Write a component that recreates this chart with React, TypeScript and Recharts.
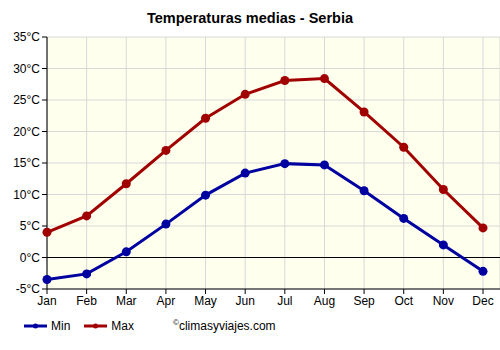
import React from "react";
import {
  LineChart,
  Line,
  XAxis,
  YAxis,
  CartesianGrid,
  ReferenceLine,
} from "recharts";

const months = ["Jan", "Feb", "Mar", "Apr", "May", "Jun", "Jul", "Aug", "Sep", "Oct", "Nov", "Dec"];
const minTemps = [-3.5, -2.6, 0.9, 5.3, 9.9, 13.4, 14.9, 14.7, 10.6, 6.2, 2.0, -2.2];
const maxTemps = [4.0, 6.6, 11.7, 17.0, 22.1, 25.9, 28.1, 28.4, 23.1, 17.5, 10.8, 4.7];
const yTicks = [-5, 0, 5, 10, 15, 20, 25, 30, 35];

const MIN_COLOR = "#0000a0";
const MAX_COLOR = "#a00000";
const FONT = "'Liberation Sans', Arial, sans-serif";

const data = months.map((m, i) => ({ month: m, min: minTemps[i], max: maxTemps[i] }));

function LegendRow() {
  const item = (label: string, color: string) => (
    <span style={{ display: "inline-flex", alignItems: "center", marginRight: 14 }}>
      <svg width={23} height={8} style={{ marginRight: 4 }}>
        <line x1={0} y1={4} x2={23} y2={4} stroke={color} strokeWidth={3} />
        <circle cx={11.5} cy={4} r={2.5} fill={color} />
      </svg>
      <span>{label}</span>
    </span>
  );
  return (
    <div
      style={{
        position: "absolute",
        left: 24,
        top: 318,
        fontFamily: FONT,
        fontSize: 12,
        color: "#000",
        display: "flex",
        alignItems: "center",
        whiteSpace: "nowrap",
      }}
    >
      {item("Min", MIN_COLOR)}
      {item("Max", MAX_COLOR)}
      <span style={{ marginLeft: 25 }}>
        <sup style={{ fontSize: 8 }}>©</sup>climasyviajes.com
      </span>
    </div>
  );
}

export default function App() {
  return (
    <div style={{ position: "absolute", left: 0, top: 0, width: 500, height: 350, background: "#fff" }}>
      <div
        style={{
          position: "absolute",
          top: 10,
          width: 500,
          textAlign: "center",
          fontFamily: FONT,
          fontWeight: "bold",
          fontSize: 14.5,
          color: "#000",
        }}
      >
        Temperaturas medias - Serbia
      </div>
      <LineChart
        width={500}
        height={350}
        data={data}
        margin={{ top: 37, right: 0, bottom: 41, left: 0 }}
        style={{ fontFamily: FONT }}
      >
        <CartesianGrid stroke="#d8d8d8" strokeWidth={1} fill="#ffffee" />
        <XAxis
          dataKey="month"
          height={20}
          padding={{ left: 0, right: 17 }}
          tick={{ fontSize: 12, fill: "#000" }}
          tickSize={5}
          axisLine={{ stroke: "#000" }}
          tickLine={{ stroke: "#000" }}
        />
        <YAxis
          width={47}
          domain={[-5, 35]}
          ticks={yTicks}
          interval={0}
          tickFormatter={(v: number) => `${v}°C`}
          tick={{ fontSize: 12, fill: "#000" }}
          tickSize={5}
          axisLine={{ stroke: "#000" }}
          tickLine={{ stroke: "#000" }}
        />
        <ReferenceLine y={0} stroke="#000" strokeWidth={1} />
        <Line
          dataKey="min"
          stroke={MIN_COLOR}
          strokeWidth={3}
          dot={{ r: 4.5, fill: MIN_COLOR, stroke: MIN_COLOR, strokeWidth: 0 }}
          isAnimationActive={false}
        />
        <Line
          dataKey="max"
          stroke={MAX_COLOR}
          strokeWidth={3}
          dot={{ r: 4.5, fill: MAX_COLOR, stroke: MAX_COLOR, strokeWidth: 0 }}
          isAnimationActive={false}
        />
      </LineChart>
      <LegendRow />
    </div>
  );
}
